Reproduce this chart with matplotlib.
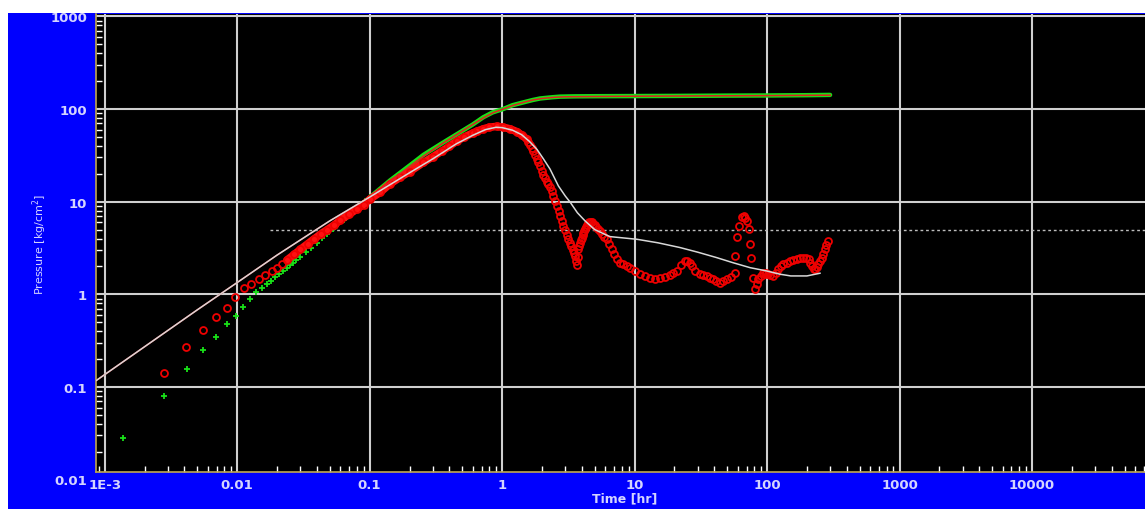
import numpy as np
import matplotlib
matplotlib.use('Agg')
import matplotlib.pyplot as plt
from matplotlib.patches import Rectangle
from matplotlib.ticker import FixedLocator, FixedFormatter, LogLocator, NullFormatter

# Pressure change data, sparse early points (hr, kg/cm2)
p_early_t = [0.00137, 0.00278, 0.00417, 0.00556, 0.00694, 0.00833, 0.00972, 0.0111, 0.0125,
             0.0139, 0.0153, 0.0167, 0.0181, 0.0194, 0.0208, 0.0222, 0.0236, 0.025, 0.0264,
             0.0278, 0.030, 0.033, 0.036, 0.040, 0.044, 0.048, 0.053, 0.058, 0.064, 0.070,
             0.077, 0.085, 0.093, 0.10]
p_early = [0.028, 0.079, 0.155, 0.248, 0.35, 0.474, 0.58, 0.73, 0.88,
           1.05, 1.17, 1.29, 1.40, 1.52, 1.65, 1.78, 1.92, 2.05, 2.18,
           2.32, 2.55, 2.85, 3.2, 3.6, 4.05, 4.5, 5.1, 5.7, 6.4, 7.2,
           8.1, 9.1, 10.2, 11.1]

# Pressure change data, dense part
p_late_t = [0.1, 0.12, 0.143, 0.2, 0.255, 0.35, 0.455, 0.6, 0.72, 0.85, 1.02, 1.2, 1.45,
            1.7, 1.94, 2.4, 2.74, 3.5, 5, 10, 20, 50, 100, 200, 299]
p_late = [11.1, 13.8, 17.0, 24.5, 32.0, 42.5, 53.4, 68, 81.4, 92, 100, 110, 118,
          125, 130, 134, 136, 137, 137.5, 138, 138.5, 139.5, 140, 141, 142]

# Derivative data, early sparse points
d_early_t = [0.00281, 0.00412, 0.00557, 0.0069, 0.00836, 0.0097, 0.0112, 0.0128, 0.0145,
             0.0163, 0.0183, 0.0200, 0.0218]
d_early = [0.141, 0.267, 0.408, 0.569, 0.711, 0.93, 1.18, 1.28, 1.45,
           1.61, 1.79, 1.94, 2.11]

# Derivative data, dense band through the hump
d_band_t = [0.0238, 0.027, 0.030, 0.034, 0.038, 0.043, 0.048, 0.054, 0.060, 0.070, 0.080,
            0.090, 0.10, 0.12, 0.143, 0.17, 0.20, 0.255, 0.30, 0.35, 0.40, 0.455, 0.52,
            0.60, 0.644, 0.72, 0.80, 0.91, 1.02, 1.15, 1.29, 1.42, 1.54]
d_band = [2.35, 2.7, 3.05, 3.5, 3.95, 4.5, 5.0, 5.6, 6.3, 7.3, 8.3,
          9.3, 10.6, 12.6, 15.6, 18.3, 21, 26.5, 30.5, 35, 39.5, 45, 50,
          55, 57.5, 61, 63.5, 65, 63.5, 61, 57, 52, 47]

# Derivative data after the hump
d_late_t = [1.58, 1.63, 1.68, 1.72, 1.77, 1.82, 1.88, 1.94, 2.0, 2.05, 2.11, 2.18, 2.24, 2.3,
            2.37, 2.44, 2.51, 2.59, 2.67, 2.75, 2.82, 2.9, 2.98, 3.07, 3.16, 3.26, 3.34,
            3.42, 3.49, 3.55, 3.61, 3.66, 3.72, 3.77, 3.83, 3.88, 3.94, 3.99, 4.05, 4.1,
            4.17, 4.23, 4.31, 4.4, 4.48, 4.56, 4.65, 4.75, 4.87, 5.0, 5.15, 5.33, 5.5, 5.7,
            5.92, 6.16, 6.4, 6.7, 7.0, 7.34, 7.8, 8.22, 8.7, 9.2, 10, 11, 12, 13.1, 14.3,
            15.6, 17, 18.5, 19.6, 20.8, 22.4, 24, 25, 26.2, 27.3, 28.5, 31, 33, 35, 37,
            39.3, 41.5, 44, 46.5, 49.5, 53, 57,
            57.7, 59.4, 61.5, 64.5, 66.5, 68.4, 71, 73.7, 74.8, 76.3, 78.5, 81, 83.3, 86,
            90.5, 93, 96, 99, 102, 106, 111, 116, 121, 127, 133, 141, 149, 158, 167, 177,
            188, 197, 206, 212, 218, 225, 232, 238, 244, 251, 259, 266, 273, 280, 287]
d_late = [44, 41, 38, 35, 32, 29, 26.5, 24, 21.5, 19.5, 18, 16.5, 15.5, 14.5,
          13, 11.5, 10.2, 9.0, 8.0, 7.0, 6.2, 5.5, 4.9, 4.4, 4.0, 3.6, 3.3,
          3.0, 2.8, 2.6, 2.3, 2.05, 2.5, 3.07, 3.35, 3.6, 3.85, 4.1, 4.35, 4.6,
          4.85, 5.05, 5.35, 5.6, 5.85, 6.05, 6.05, 6.0, 5.8, 5.6, 5.3, 5.05, 4.8, 4.5,
          4.2, 3.93, 3.5, 3.07, 2.7, 2.39, 2.2, 2.11, 2.0, 1.94, 1.8, 1.65, 1.57, 1.51, 1.48,
          1.5, 1.55, 1.6, 1.7, 1.79, 2.05, 2.29, 2.3, 2.2, 2.0, 1.79, 1.65, 1.62, 1.58, 1.5,
          1.45, 1.38, 1.34, 1.38, 1.45, 1.55, 1.69,
          2.6, 4.17, 5.47, 6.85, 7.0, 6.74, 6.2, 5.05, 3.53, 2.49, 1.51, 1.13, 1.28, 1.45,
          1.58, 1.7, 1.65, 1.7, 1.65, 1.6, 1.58, 1.7, 1.86, 2.0, 2.11, 2.2, 2.29, 2.35, 2.39, 2.45,
          2.49, 2.45, 2.39, 2.2, 2.02, 1.9, 1.86, 1.95, 2.11, 2.3, 2.49, 2.75, 3.07, 3.4, 3.77]

# Model pressure change
m_p_t = [0.00086, 0.002, 0.005, 0.01, 0.02, 0.05, 0.1, 0.143, 0.2, 0.255, 0.35, 0.455, 0.6,
         0.72, 0.85, 1.0, 1.2, 1.45, 1.7, 2.0, 2.5, 3.0, 5, 10, 30, 100, 300]
m_p = [0.117, 0.272, 0.68, 1.34, 2.65, 6.2, 11.2, 16.5, 24, 31, 42, 53, 68,
       80, 91, 99, 109, 118, 125, 130, 134, 135.5, 136.5, 137.5, 138.5, 139.5, 141]

# Model derivative
m_d_t = [0.00086, 0.002, 0.005, 0.01, 0.02, 0.05, 0.1, 0.2, 0.3, 0.45, 0.6, 0.75, 0.9, 1.0,
         1.2, 1.4, 1.6, 1.83, 2.05, 2.3, 2.66, 3.0, 3.26, 3.7, 4.23, 5.0, 6.5, 10.4, 15, 22,
         30, 41.7, 55, 74.5, 99, 125, 151, 200, 251]
m_d = [0.117, 0.272, 0.68, 1.34, 2.65, 6.2, 11.2, 20.5, 29, 42, 52, 60, 63.5, 63,
       59, 53, 45, 36.8, 29, 22.5, 14.8, 11.5, 9.9, 7.6, 6.2, 5.0, 4.2, 3.93, 3.6, 3.2,
       2.85, 2.49, 2.2, 1.94, 1.79, 1.65, 1.58, 1.58, 1.69]

# Horizontal reference level
ref_level = 5.0
ref_start = 0.0178

x_ticks = [1e-3, 1e-2, 1e-1, 1, 10, 100, 1000, 10000]
x_labels = ['1E-3', '0.01', '0.1', '1', '10', '100', '1000', '10000']
y_ticks = [0.1, 1, 10, 100, 1000]
y_labels = ['0.1', '1', '10', '100', '1000']

label_color = '#d4d4ff'
grid_color = '#cfcfcf'

fig = plt.figure(figsize=(11.45, 5.10), dpi=100, facecolor='white')
fig.patches.append(Rectangle((8 / 1145, 0), 1, (510 - 14) / 510, transform=fig.transFigure,
                             facecolor='#0000fe', edgecolor='none', zorder=-10))

ax = fig.add_axes([96 / 1145, 37 / 510, 1 - 96 / 1145, 458 / 510])
ax.set_facecolor('black')
ax.set_xscale('log')
ax.set_yscale('log')
ax.set_xlim(0.00086, 71300)
ax.set_ylim(0.0121, 1060)

# grid and spines
ax.grid(True, which='major', color=grid_color, lw=1.5)
ax.set_axisbelow(True)
for side in ['top', 'right']:
    ax.spines[side].set_visible(False)
for side in ['left', 'bottom']:
    ax.spines[side].set_color('#c0a850')
    ax.spines[side].set_linewidth(1.2)

ax.xaxis.set_major_locator(FixedLocator(x_ticks))
ax.xaxis.set_major_formatter(FixedFormatter(x_labels))
ax.yaxis.set_major_locator(FixedLocator(y_ticks))
ax.yaxis.set_major_formatter(FixedFormatter(y_labels))
ax.xaxis.set_minor_locator(LogLocator(base=10, subs=np.arange(2, 10), numticks=20))
ax.yaxis.set_minor_locator(LogLocator(base=10, subs=np.arange(2, 10), numticks=20))
ax.xaxis.set_minor_formatter(NullFormatter())
ax.yaxis.set_minor_formatter(NullFormatter())
ax.tick_params(which='major', length=0, labelcolor=label_color, labelsize=9.5)
ax.tick_params(axis='x', which='major', pad=4)
ax.tick_params(axis='y', which='major', pad=6.5)
ax.tick_params(which='minor', direction='in', length=4, width=1, color='white')
for lab in ax.get_xticklabels() + ax.get_yticklabels():
    lab.set_fontweight('bold')

# bottom label of the pressure axis
ax.text(-9 / 1049, -9 / 458, '0.01', transform=ax.transAxes, ha='right', va='center',
        color=label_color, fontsize=9.5, fontweight='bold')

ax.set_xlabel('Time [hr]', color=label_color, fontsize=9, fontweight='bold')
ax.xaxis.set_label_coords(529 / 1049, -19 / 458)
ax.set_ylabel('Pressure [kg/cm$^2$]', color=label_color, fontsize=8)
ax.yaxis.set_label_coords(-47 / 1049, 0.5)

# reference level
ax.hlines(ref_level, ref_start, 71300, colors='#bdbdbd', linestyles=(0, (2, 2)), lw=1)

# pressure data
ax.plot(p_late_t, p_late, color='#18e018', lw=3.2, solid_capstyle='round', zorder=3)
ax.plot(p_early_t, p_early, ls='none', marker='+', ms=5, mew=1.3, color='#18e018', zorder=3)

# derivative data
ax.plot(d_band_t, d_band, color='#ff1010', lw=5.5, solid_capstyle='round', zorder=4)
for t, p in [(d_early_t, d_early), (d_band_t, d_band), (d_late_t, d_late)]:
    ax.plot(t, p, ls='none', marker='o', ms=5, mew=1.3, mfc='none', mec='#ee0000', zorder=4)

# models
ax.plot(m_p_t, m_p, color='#e02020', lw=1.1, zorder=5)
ax.plot(m_d_t, m_d, color='#d8d8d8', lw=1.1, zorder=6)

plt.savefig('out.png', dpi=100, facecolor=fig.get_facecolor())
plt.close(fig)
